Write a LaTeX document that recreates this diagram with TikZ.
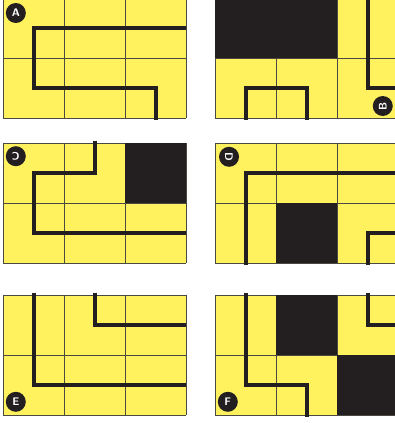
\documentclass[tikz,border=0pt]{standalone}
\usepackage{tikz}
\definecolor{tileFill}{HTML}{FFF25E}
\definecolor{tileDark}{HTML}{231F20}
\definecolor{gridStroke}{HTML}{4A4A42}

\newcommand{\boardlines}{%
  \foreach \c in {0,...,3} \draw[gridline] (\c,0) -- (\c,2);
  \foreach \r in {0,1,2} \draw[gridline] (0,\r) -- (3,\r);}

\begin{document}
\begin{tikzpicture}[
  x=1pt,y=-1pt,
  board/.style={x=61pt,y=-60pt},
  tile/.style={fill=tileFill},
  block/.style={fill=tileDark},
  gridline/.style={draw=gridStroke,line width=.8pt},
  route/.style={draw=tileDark,line width=4pt,miter limit=10},
  tag/.style={circle,fill=tileDark,text=white,inner sep=0pt,minimum size=20pt,
    font=\sffamily\bfseries\fontsize{11}{11}\selectfont}
]
\useasboundingbox[fill=white] (0,0) rectangle (395,423);
% Panels: a 3 x 2 board of tiles, dark tiles and the route drawn on top.
% Panel A
\begin{scope}[board,shift={(3pt,2pt)}]
  \fill[tile] (0,0) rectangle (3,2);
  \boardlines
  \draw[route] (3,0.5) -- (0.5,0.5) -- (0.5,1.5) -- (2.5,1.5) -- (2.5,2.04);
  \node[tag] (tagA) at (0.21,0.25) {A};
\end{scope}
% Panel B
\begin{scope}[board,shift={(215pt,2pt)}]
  \fill[tile] (0,0) rectangle (3,2);
  \boardlines
  \fill[block] (0,0) rectangle (2,1);
  \draw[route] (2.5,-0.04) -- (2.5,1.5) -- (3.02,1.5);
  \draw[route] (0.5,2.04) -- (0.5,1.5) -- (1.5,1.5) -- (1.5,2.04);
  \node[tag,rotate=90] (tagB) at (2.75,1.8) {B};
\end{scope}
% Panel C
\begin{scope}[board,shift={(3pt,-143pt)}]
  \fill[tile] (0,0) rectangle (3,2);
  \boardlines
  \fill[block] (2,0) rectangle (3,1);
  \draw[route] (1.5,-0.04) -- (1.5,0.5) -- (0.5,0.5) -- (0.5,1.5) -- (3,1.5);
  \node[tag,rotate=180] (tagC) at (0.21,0.22) {C};
\end{scope}
% Panel D
\begin{scope}[board,shift={(215pt,-143pt)}]
  \fill[tile] (0,0) rectangle (3,2);
  \boardlines
  \fill[block] (1,1) rectangle (2,2);
  \draw[route] (0.5,2.04) -- (0.5,0.5) -- (3.02,0.5);
  \draw[route] (2.5,2.04) -- (2.5,1.5) -- (3.02,1.5);
  \node[tag,rotate=-90] (tagD) at (0.23,0.23) {D};
\end{scope}
% Panel E
\begin{scope}[board,shift={(3pt,-295pt)}]
  \fill[tile] (0,0) rectangle (3,2);
  \boardlines
  \draw[route] (0.5,-0.04) -- (0.5,1.5) -- (3,1.5);
  \draw[route] (1.5,-0.04) -- (1.5,0.5) -- (3,0.5);
  \node[tag] (tagE) at (0.21,1.78) {E};
\end{scope}
% Panel F
\begin{scope}[board,shift={(215pt,-295pt)}]
  \fill[tile] (0,0) rectangle (3,2);
  \boardlines
  \fill[block] (1,0) rectangle (2,1);
  \fill[block] (2,1) rectangle (3,2);
  \draw[route] (0.5,-0.04) -- (0.5,1.5) -- (1.5,1.5) -- (1.5,2.04);
  \draw[route] (2.5,-0.04) -- (2.5,0.5) -- (3.02,0.5);
  \node[tag] (tagF) at (0.21,1.78) {F};
\end{scope}
\end{tikzpicture}
\end{document}
